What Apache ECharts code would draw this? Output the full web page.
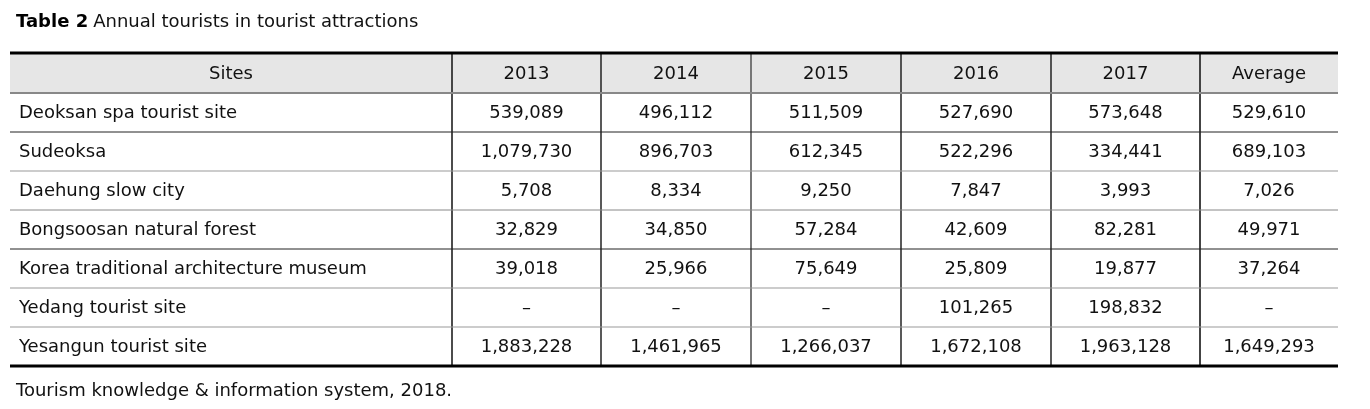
<!DOCTYPE html>
<html>
<head>
<meta charset="utf-8">
<script src="https://cdn.jsdelivr.net/npm/echarts@6/dist/echarts.min.js"></script>
<style>
  html, body { margin: 0; padding: 0; background: #fff; }
  #chart { width: 1370px; height: 409px; }
</style>
</head>
<body>
<div id="chart"></div>
<script>
// table data
var columns = ['Sites', '2013', '2014', '2015', '2016', '2017', 'Average'];
var sites = ['Deoksan spa tourist site', 'Sudeoksa', 'Daehung slow city', 'Bongsoosan natural forest',
  'Korea traditional architecture museum', 'Yedang tourist site', 'Yesangun tourist site'];
var v2013 = [539089, 1079730, 5708, 32829, 39018, null, 1883228];
var v2014 = [496112, 896703, 8334, 34850, 25966, null, 1461965];
var v2015 = [511509, 612345, 9250, 57284, 75649, null, 1266037];
var v2016 = [527690, 522296, 7847, 42609, 25809, 101265, 1672108];
var v2017 = [573648, 334441, 3993, 82281, 19877, 198832, 1963128];
var average = [529610, 689103, 7026, 49971, 37264, null, 1649293];

// layout (table units = px inside grid)
var colEdges = [0, 442, 591, 741, 891, 1041, 1190, 1328];
var rowEdges = [0, 40, 79, 118, 157, 196, 235, 274, 313];
var vLineColor = ['#111', '#222', '#777', '#222', '#222', '#444'];
var hLineColor = ['#888', '#222', '#999', '#888', '#222', '#999', '#999'];
var font = 'DejaVu Sans';

function fmt(v) {
  return v == null ? '\u2013' : v.toLocaleString('en-US');
}

var cells = [];
columns.forEach(function (c, i) { cells.push([i, 0, c]); });
var valueCols = [v2013, v2014, v2015, v2016, v2017, average];
sites.forEach(function (s, r) {
  cells.push([0, r + 1, s]);
  valueCols.forEach(function (col, i) {
    cells.push([i + 1, r + 1, fmt(col[r])]);
  });
});

var chart = echarts.init(document.getElementById('chart'));

function renderCell(params, api) {
  var c = api.value(0), r = api.value(1);
  var p0 = api.coord([colEdges[c], rowEdges[r]]);
  var p1 = api.coord([colEdges[c + 1], rowEdges[r + 1]]);
  var txt = cells[params.dataIndex][2];
  var children = [];
  if (r === 0) {
    children.push({type: 'rect', shape: {x: p0[0], y: p0[1], width: p1[0] - p0[0], height: p1[1] - p0[1]},
      style: {fill: '#e6e6e6'}, z2: 0});
    children.push({type: 'line', shape: {x1: p0[0], y1: p0[1], x2: p1[0], y2: p0[1]},
      style: {stroke: '#000', lineWidth: 3}, z2: 5});
  }
  // bottom border
  var last = r === sites.length;
  children.push({type: 'line', shape: {x1: p0[0], y1: p1[1], x2: p1[0], y2: p1[1]},
    style: {stroke: last ? '#000' : hLineColor[r], lineWidth: last ? 3 : (r === 0 ? 2 : 1)}, z2: 4});
  // right border
  if (c < columns.length - 1) {
    children.push({type: 'line', shape: {x1: p1[0], y1: p0[1], x2: p1[0], y2: p1[1]},
      style: {stroke: vLineColor[c], lineWidth: c === 2 || c === 5 ? 2 : 1.5}, z2: 3});
  }
  var left = c === 0 && r > 0;
  children.push({type: 'text', z2: 10,
    style: {text: txt, x: left ? p0[0] + 9 : (p0[0] + p1[0]) / 2, y: (p0[1] + p1[1]) / 2 + 1,
      align: left ? 'left' : 'center', verticalAlign: 'middle',
      fill: '#111', fontSize: 18, fontFamily: font}});
  return {type: 'group', children: children};
}

var option = {
  animation: false,
  title: [{
    left: 11,
    top: 8,
    text: '{b|Table 2} {n|Annual tourists in tourist attractions}',
    textStyle: {
      rich: {
        b: {fontWeight: 'bold', fontSize: 18, fontFamily: font, color: '#000'},
        n: {fontWeight: 'normal', fontSize: 18, fontFamily: font, color: '#111'}
      }
    }
  }, {
    left: 11,
    top: 377,
    text: 'Tourism knowledge & information system, 2018.',
    textStyle: {fontWeight: 'normal', fontSize: 18, fontFamily: font, color: '#111'}
  }],
  grid: {left: 10, top: 53, width: 1328, height: 313},
  xAxis: {type: 'value', min: 0, max: 1328, show: false},
  yAxis: {type: 'value', min: 0, max: 313, inverse: true, show: false},
  series: [{
    type: 'custom',
    clip: false,
    data: cells.map(function (d) { return [d[0], d[1]]; }),
    renderItem: renderCell
  }]
};
chart.setOption(option);
</script>
</body>
</html>
